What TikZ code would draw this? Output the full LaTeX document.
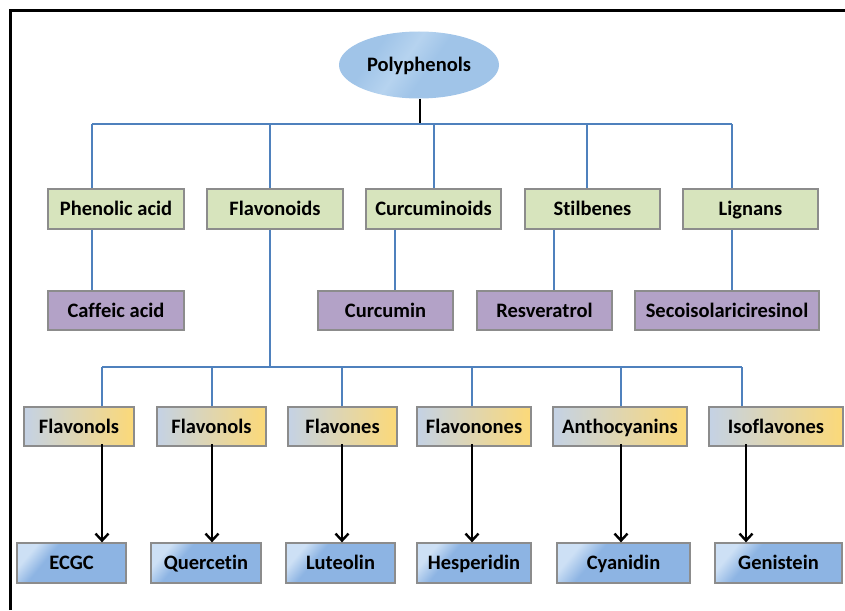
\documentclass[tikz,border=0pt]{standalone}
\usepackage{fontspec}
\setmainfont{Carlito}[Ligatures=NoCommon]
\usetikzlibrary{arrows.meta,shapes.geometric,calc}
\definecolor{busblue}{RGB}{79,129,189}
\definecolor{greenfill}{RGB}{215,228,189}
\definecolor{purplefill}{RGB}{179,162,199}
\definecolor{boxedge}{RGB}{140,140,140}
\definecolor{gleft}{RGB}{196,210,229}
\definecolor{gright}{RGB}{252,217,120}
\definecolor{bhi}{RGB}{205,224,245}
\definecolor{bmain}{RGB}{141,180,227}
\definecolor{ehi}{RGB}{182,211,239}
\definecolor{emain}{RGB}{160,196,232}
\pgfdeclarehorizontalshading{blueboxshade}{100bp}{color(0bp)=(bhi); color(25bp)=(bhi); color(36bp)=(bmain); color(100bp)=(bmain)}
\pgfdeclarehorizontalshading{ellshade}{100bp}{color(0bp)=(emain); color(32bp)=(emain); color(44bp)=(ehi); color(54bp)=(emain); color(100bp)=(emain)}
\tikzset{
  lbl/.style={font=\fontsize{20.5}{24}\selectfont\bfseries, text=black, inner sep=0pt,
    text height=15.5pt, text depth=2pt, minimum height=39.5pt},
  greenbox/.style={lbl, rectangle, draw=boxedge, line width=1.8pt, fill=greenfill, minimum width=136pt},
  purplebox/.style={lbl, rectangle, draw=boxedge, line width=1.8pt, fill=purplefill, minimum width=136pt},
  gradbox/.style={lbl, rectangle, draw=boxedge, line width=1.8pt, left color=gleft, right color=gright},
  bluebox/.style={lbl, rectangle, draw=boxedge, line width=1.8pt, shading=blueboxshade, shading angle=-40},
  bus/.style={draw=busblue, line width=2.6pt},
  arr/.style={draw=black, line width=2.8pt, -{Straight Barb[length=7pt,width=13pt,line width=2.4pt]}},
}
\begin{document}
\begin{tikzpicture}[x=1pt,y=-1pt]
\useasboundingbox (0,0) rectangle (845,610);
\fill[white] (0,0) rectangle (845,610);
\draw[line width=3pt] (10.5,610) -- (10.5,11) -- (845,11);

% root
\node[ellipse, inner sep=0pt, minimum width=160pt, minimum height=67pt, shading=ellshade, shading angle=-35,
  font=\fontsize{20.5}{24}\selectfont\bfseries, text height=15.5pt, text depth=2pt] (poly) at (419,65) {Polyphenols};

% level 1
\node[greenbox] (phen) at (116,209) {Phenolic acid};
\node[greenbox] (flav) at (275,209) {Flavonoids};
\node[greenbox, minimum width=135pt] (curc) at (433.5,209) {Curcuminoids};
\node[greenbox, minimum width=135pt] (stil) at (592.5,209) {Stilbenes};
\node[greenbox, minimum width=135pt] (lign) at (750.5,209) {Lignans};

% level 2 (purple)
\node[purplebox] (caff) at (116,310.5) {Caffeic acid};
\node[purplebox, minimum width=135pt] (curm) at (385.5,310.5) {Curcumin};
\node[purplebox, minimum width=135pt] (resv) at (544.5,310.5) {Resveratrol};
\node[purplebox, minimum width=184pt] (seco) at (727,310.5) {Secoisolariciresinol};

% flavonoid subclasses
\node[gradbox, minimum width=110pt] (fl1) at (79,426.5) {Flavonols};
\node[gradbox, minimum width=109pt] (fl2) at (211.5,426.5) {Flavonols};
\node[gradbox, minimum width=109pt] (flv) at (342.5,426.5) {Flavones};
\node[gradbox, minimum width=114pt] (flvn) at (474,426.5) {Flavonones};
\node[gradbox, minimum width=134pt] (anth) at (620,426.5) {Anthocyanins};
\node[gradbox, minimum width=134pt] (iso) at (776,426.5) {Isoflavones};

% compounds
\node[bluebox, minimum width=109pt] (ecgc) at (71.5,563) {ECGC};
\node[bluebox, minimum width=110pt] (quer) at (206,563) {Quercetin};
\node[bluebox, minimum width=109pt] (lut) at (340.5,563) {Luteolin};
\node[bluebox, minimum width=114pt] (hesp) at (474,563) {Hesperidin};
\node[bluebox, minimum width=133pt] (cyan) at (623.5,563) {Cyanidin};
\node[bluebox, minimum width=127pt] (gen) at (778.5,563) {Genistein};

% top bus
\coordinate (t1) at (92,124);
\coordinate (t2) at (270,124);
\coordinate (t3) at (434,124);
\coordinate (t4) at (587,124);
\coordinate (t5) at (732,124);
\coordinate (t0) at (420,124);
\draw[line width=2.4pt] (t0 |- poly.south) -- (t0);
\draw[bus] (t1) -- (t5);
\draw[bus] (t1) -- (t1 |- phen.north);
\draw[bus] (t2) -- (t2 |- flav.north);
\draw[bus] (t3) -- (t3 |- curc.north);
\draw[bus] (t4) -- (t4 |- stil.north);
\draw[bus] (t5) -- (t5 |- lign.north);

% green to purple
\coordinate (d2) at (395,0);
\coordinate (d3) at (554,0);
\draw[bus] (t1 |- phen.south) -- (t1 |- caff.north);
\draw[bus] (d2 |- curc.south) -- (d2 |- curm.north);
\draw[bus] (d3 |- stil.south) -- (d3 |- resv.north);
\draw[bus] (t5 |- lign.south) -- (t5 |- seco.north);

% second bus
\coordinate (b1) at (102,367);
\coordinate (b2) at (212,367);
\coordinate (b3) at (342,367);
\coordinate (b4) at (472,367);
\coordinate (b5) at (621,367);
\coordinate (b6) at (742,367);
\draw[bus] (t2 |- flav.south) -- (t2 |- b1);
\draw[bus] (b1) -- (b6);
\draw[bus] (b1) -- (b1 |- fl1.north);
\draw[bus] (b2) -- (b2 |- fl2.north);
\draw[bus] (b3) -- (b3 |- flv.north);
\draw[bus] (b4) -- (b4 |- flvn.north);
\draw[bus] (b5) -- (b5 |- anth.north);
\draw[bus] (b6) -- (b6 |- iso.north);

% arrows
\coordinate (a6) at (746,0);
\draw[arr] ([yshift=3pt]b1 |- fl1.south) -- (b1 |- ecgc.north);
\draw[arr] ([yshift=3pt]b2 |- fl2.south) -- (b2 |- quer.north);
\draw[arr] ([yshift=3pt]b3 |- flv.south) -- (b3 |- lut.north);
\draw[arr] ([yshift=3pt]b4 |- flvn.south) -- (b4 |- hesp.north);
\draw[arr] ([yshift=3pt]b5 |- anth.south) -- (b5 |- cyan.north);
\draw[arr] ([yshift=3pt]a6 |- iso.south) -- (a6 |- gen.north);
\end{tikzpicture}
\end{document}
